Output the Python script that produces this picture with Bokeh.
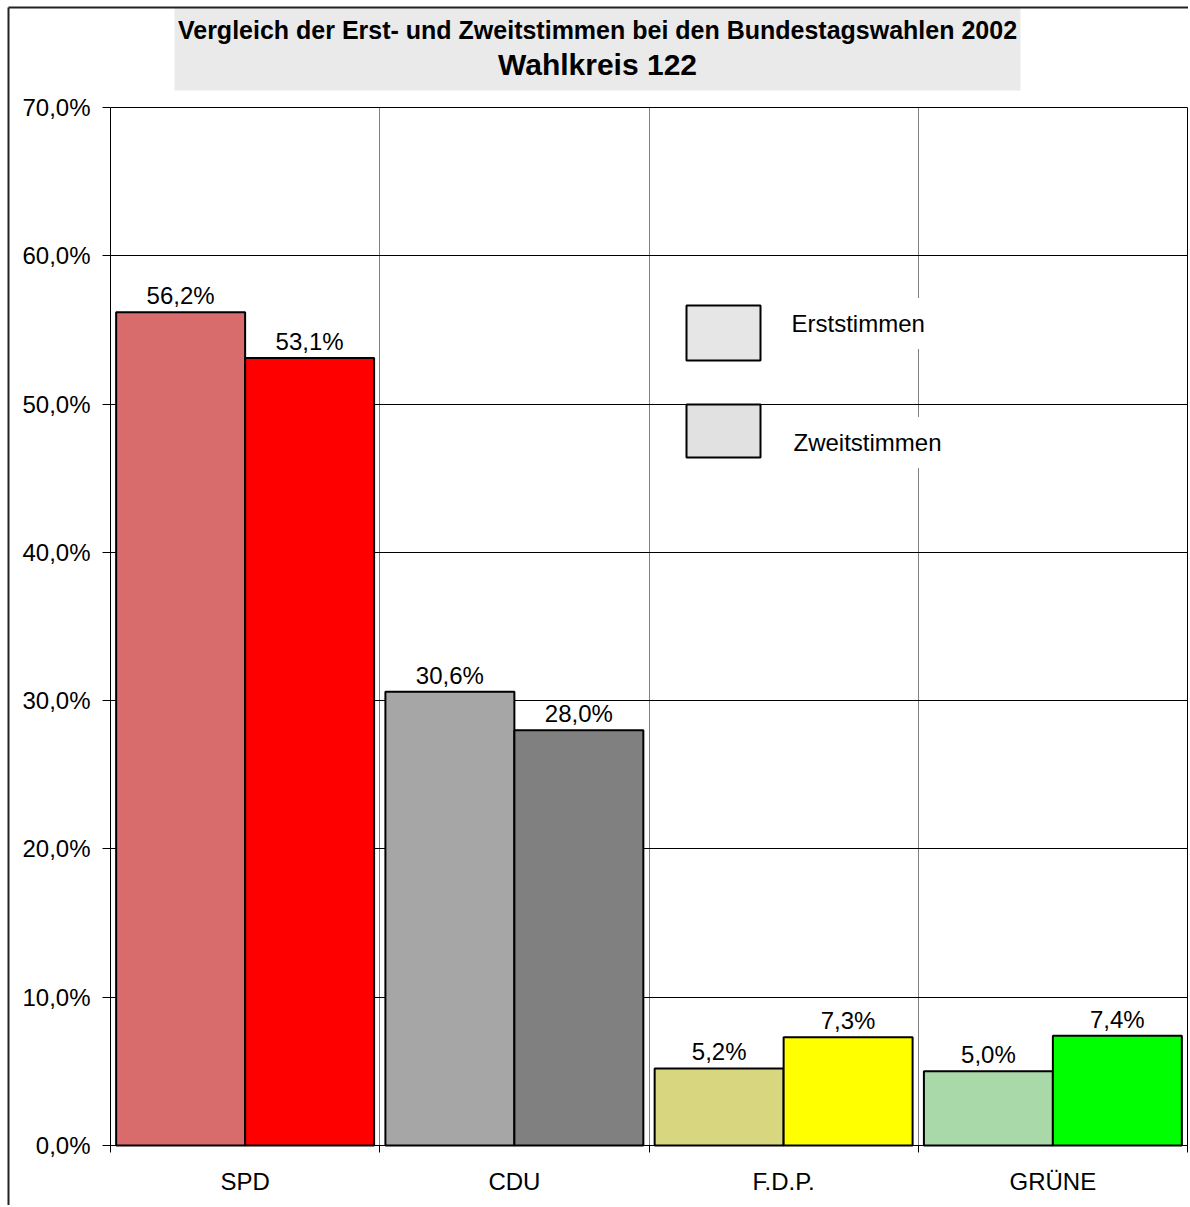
from bokeh.plotting import figure
from bokeh.models import ColumnDataSource, FixedTicker, Range1d, Grid
from bokeh.core.properties import value
from bokeh.embed import file_html
from bokeh.resources import INLINE

# ---- data ----
parties = ["SPD", "CDU", "F.D.P.", "GRÜNE"]
erst = [56.2, 30.6, 5.2, 5.0]
zweit = [53.1, 28.0, 7.3, 7.4]
erst_colors = ["#d86b6b", "#a6a6a6", "#d8d67e", "#a9d8a9"]
zweit_colors = ["#ff0000", "#808080", "#ffff00", "#00ff00"]
y_ticks = [0, 10, 20, 30, 40, 50, 60, 70]
series_names = ["Erststimmen", "Zweitstimmen"]
legend_colors = ["#e6e6e6", "#e1e1e1"]
title_line1 = "Vergleich der Erst- und Zweitstimmen bei den Bundestagswahlen 2002"
title_line2 = "Wahlkreis 122"

FONT = "Liberation Sans"

# ---- layout (pixels) ----
W, H = 1188, 1205
PL, PR, PT, PB = 110, 1187, 107, 1145     # plot area in canvas pixels
YMAX = 70
NCAT = len(parties)
sx = (PR - PL) / NCAT
sy = (PB - PT) / YMAX


def X(px):
    return (px - PL) / sx


def Y(py):
    return (PB - py) / sy


def fmt(v):
    return f"{v:.1f}".replace(".", ",") + "%"


idx = list(range(NCAT))
bar_w = 0.479
src_e = ColumnDataSource(dict(x=[i + 0.5 - bar_w / 2 for i in idx], top=erst,
                              color=erst_colors, label=[fmt(v) for v in erst]))
src_z = ColumnDataSource(dict(x=[i + 0.5 + bar_w / 2 for i in idx], top=zweit,
                              color=zweit_colors, label=[fmt(v) for v in zweit]))

p = figure(width=W, height=H, x_range=Range1d(X(0), X(W)),
           y_range=Range1d(Y(H), Y(0)), output_backend="svg",
           toolbar_location=None, min_border=0)
p.background_fill_color = "white"
p.border_fill_color = "white"
p.outline_line_color = None

# title box
p.quad(left=[X(174)], right=[X(1020)], top=[Y(7)], bottom=[Y(90)],
       fill_color="#eaeaea", line_color=None)
p.text(x=[X(597)], y=[Y(29)], text=[title_line1], text_align="center",
       text_baseline="middle", text_font=value(FONT), text_font_style="bold",
       text_font_size="25px", text_color="black")
p.text(x=[X(597)], y=[Y(64)], text=[title_line2], text_align="center",
       text_baseline="middle", text_font=value(FONT), text_font_style="bold",
       text_font_size="30px", text_color="black")

# outer chart border (left & top)
p.segment(x0=[X(8), X(8)], y0=[Y(7), Y(7)], x1=[X(8), X(W + 5)],
          y1=[Y(H + 5), Y(7)], line_color="#222222", line_width=2)

# grids
p.xgrid.ticker = FixedTicker(ticks=[float(i) for i in range(1, NCAT)])
p.xgrid.grid_line_color = "#808080"
p.xgrid.grid_line_width = 1
p.xgrid.cross_bounds = (0, YMAX)
p.ygrid.ticker = FixedTicker(ticks=y_ticks)
p.ygrid.grid_line_color = "black"
p.ygrid.grid_line_width = 1
p.ygrid.cross_bounds = (0, NCAT)
p.add_layout(Grid(dimension=0, ticker=FixedTicker(ticks=[float(NCAT)]),
                  cross_bounds=(0, YMAX), grid_line_color="black",
                  grid_line_width=1))

# bars
p.vbar(x="x", top="top", bottom=0, width=bar_w, fill_color="color",
       line_color="black", line_width=2, source=src_e)
p.vbar(x="x", top="top", bottom=0, width=bar_w, fill_color="color",
       line_color="black", line_width=2, source=src_z)

# value labels
for src in (src_e, src_z):
    p.text(x="x", y="top", text="label", source=src, text_align="center",
           text_baseline="bottom", y_offset=-3, text_font=value(FONT),
           text_font_size="24px", text_color="black")

# axes
p.xaxis.fixed_location = 0
p.xaxis.bounds = (0, NCAT)
p.xaxis.ticker = FixedTicker(ticks=[i + 0.5 for i in idx],
                             minor_ticks=[float(i) for i in range(NCAT + 1)])
p.xaxis.major_label_overrides = {i + 0.5: name for i, name in zip(idx, parties)}
p.xaxis.major_tick_out = 0
p.xaxis.major_tick_in = 0
p.xaxis.minor_tick_out = 7
p.xaxis.minor_tick_in = 0
p.xaxis.minor_tick_line_color = "black"
p.xaxis.major_label_standoff = 15

p.yaxis.fixed_location = 0
p.yaxis.bounds = (0, YMAX)
p.yaxis.ticker = FixedTicker(ticks=y_ticks, minor_ticks=[])
p.yaxis.major_label_overrides = {t: fmt(t) for t in y_ticks}
p.yaxis.major_tick_out = 8
p.yaxis.major_tick_in = 0
p.yaxis.major_label_standoff = 12

for ax in (p.xaxis, p.yaxis):
    ax.axis_line_color = "black"
    ax.major_label_text_font = FONT
    ax.major_label_text_font_size = "24px"
    ax.major_label_text_color = "black"
    ax.major_tick_line_color = "black"

# legend (swatches + labels)
leg_src = ColumnDataSource(dict(
    left=[X(686), X(686)], right=[X(760), X(760)],
    top=[Y(305), Y(404)], bottom=[Y(360), Y(457)],
    tx=[X(779), X(781)], ty=[Y(323), Y(442)],
    label=series_names, color=legend_colors))
p.quad(left="left", right="right", top="top", bottom="bottom",
       fill_color="color", line_color="black", line_width=2, source=leg_src)
p.text(x="tx", y="ty", text="label", source=leg_src, text_align="left",
       text_baseline="middle", text_font=value(FONT), text_font_size="24px",
       text_color="black", background_fill_color="white", padding=12)

open("out.html", "w").write(file_html(p, INLINE))
